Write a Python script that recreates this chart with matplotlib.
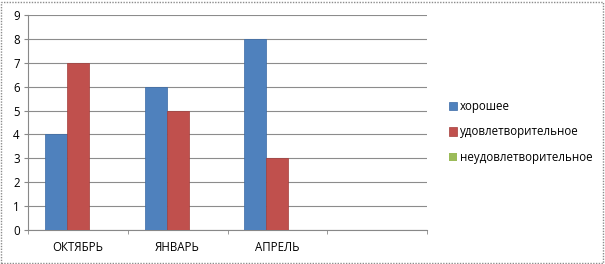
import matplotlib
matplotlib.use("Agg")
import matplotlib.pyplot as plt
import numpy as np
from matplotlib.patches import Rectangle

categories = ["ОКТЯБРЬ", "ЯНВАРЬ", "АПРЕЛЬ", ""]
series_names = ["хорошее", "удовлетворительное", "неудовлетворительное"]
good = [4, 6, 8, np.nan]
satisfactory = [7, 5, 3, np.nan]
unsatisfactory = [0, 0, 0, np.nan]
yticks = list(range(0, 10))

colors = ["#4F81BD", "#C0504D", "#9BBB59"]
edges = ["#3A6AA6", "#A33D3A", "#7FA040"]

plt.rcParams['font.family'] = ['Open Sans', 'DejaVu Sans']
fig = plt.figure(figsize=(6.05, 2.64), dpi=100)
ax = fig.add_axes([28/605, 1-230/264, (427-28)/605, (230-15)/264])

x = np.arange(len(categories))
w = 0.22
data = [good, satisfactory, unsatisfactory]
for i, (vals, name) in enumerate(zip(data, series_names)):
    ax.bar(x + (i-1)*w, vals, width=w, color=colors[i], edgecolor=edges[i],
           linewidth=0.5 if i < 2 else 0, label=name, zorder=3)

ax.set_xlim(-0.5, len(categories)-0.5)
ax.set_ylim(0, 9)
ax.set_yticks(yticks)
ax.set_yticklabels([str(t) for t in yticks], fontsize=8.3, color="#000000")
ax.set_xticks(x)
ax.set_xticklabels(categories, fontsize=8.3, color="#000000")
ax.tick_params(axis='x', length=0, pad=8)
ax.set_xticks(np.arange(-0.5, len(categories), 1), minor=True)
ax.tick_params(axis='x', which='minor', length=3, color="#888888", direction='out')
ax.tick_params(axis='y', length=3, color="#888888", direction='out', pad=3)
ax.grid(axis='y', color="#8C8C8C", linewidth=0.8, zorder=0)
for s in ['top', 'right']:
    ax.spines[s].set_visible(False)
ax.spines['left'].set_color("#888888")
ax.spines['bottom'].set_color("#888888")

handles, labels = ax.get_legend_handles_labels()
leg = fig.legend(handles, labels, loc='center left', bbox_to_anchor=(444/605, 0.5),
                 frameon=False, fontsize=8.3, handlelength=0.7, handleheight=0.7,
                 handletextpad=0.3, labelspacing=1.05, borderaxespad=0)

fig.patches.append(Rectangle((0.002, 0.004), 0.994, 0.99, transform=fig.transFigure,
                             fill=False, edgecolor="#8C8C8C", linewidth=1.0,
                             linestyle=(0, (1, 1))))
fig.savefig("out.png", dpi=100)
